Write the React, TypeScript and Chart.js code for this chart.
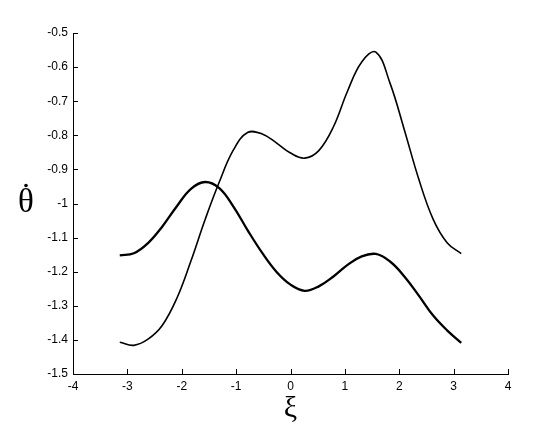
import React, { useEffect, useRef } from "react";
import { Chart, registerables } from "chart.js";

Chart.register(...registerables);

const xTicks = [-4, -3, -2, -1, 0, 1, 2, 3, 4];
const yTicks = [-0.5, -0.6, -0.7, -0.8, -0.9, -1.0, -1.1, -1.2, -1.3, -1.4, -1.5];

const xi = [-3.14, -2.88, -2.62, -2.36, -2.09, -1.83, -1.57, -1.31, -1.05, -0.79, -0.52, -0.26, 0, 0.26, 0.52, 0.79, 1.05, 1.31, 1.57, 1.83, 2.09, 2.36, 2.62, 2.88, 3.14];
const upperBranch = [-1.407, -1.416, -1.398, -1.358, -1.278, -1.168, -1.047, -0.937, -0.843, -0.792, -0.796, -0.822, -0.852, -0.867, -0.845, -0.775, -0.67, -0.585, -0.556, -0.647, -0.782, -0.929, -1.045, -1.115, -1.147];
const lowerBranch = [-1.152, -1.146, -1.116, -1.068, -1.008, -0.957, -0.937, -0.955, -1.009, -1.078, -1.145, -1.2, -1.238, -1.256, -1.243, -1.214, -1.18, -1.155, -1.148, -1.17, -1.213, -1.27, -1.328, -1.372, -1.409];

const xLabel = "ξ";
const yLabel = "θ";

const W = 560;
const H = 437;

const axisPlugin = {
  id: "axisDecor",
  afterDraw(chart: any) {
    const ctx = chart.ctx;
    const xs = chart.scales.x;
    const ys = chart.scales.y;
    const area = chart.chartArea;
    ctx.save();
    ctx.strokeStyle = "#000";
    ctx.lineWidth = 1;
    ctx.beginPath();
    xTicks.forEach((v) => {
      const px = Math.round(xs.getPixelForValue(v)) + 0.5;
      ctx.moveTo(px, area.bottom);
      ctx.lineTo(px, area.bottom - 5);
    });
    yTicks.forEach((v) => {
      const py = Math.round(ys.getPixelForValue(v)) + 0.5;
      ctx.moveTo(area.left, py);
      ctx.lineTo(area.left + 5, py);
    });
    ctx.stroke();
    ctx.fillStyle = "#000";
    ctx.textAlign = "center";
    ctx.textBaseline = "alphabetic";
    ctx.font = "30px 'Liberation Serif', serif";
    ctx.fillText(xLabel, (area.left + area.right) / 2, 417);
    ctx.font = "33px 'Liberation Serif', serif";
    ctx.fillText(yLabel, 26, 212);
    ctx.beginPath();
    ctx.arc(26, 185.5, 1.8, 0, Math.PI * 2);
    ctx.fill();
    ctx.restore();
  },
};

function toPoints(xs: number[], ys: number[]) {
  return xs.map((x, i) => ({ x, y: ys[i] }));
}

export default function App() {
  const ref = useRef<HTMLCanvasElement | null>(null);
  useEffect(() => {
    if (!ref.current) return;
    const tickFont = { family: "'Liberation Sans', Arial, sans-serif", size: 12 };
    const chart = new Chart(ref.current, {
      type: "line",
      data: {
        datasets: [
          {
            data: toPoints(xi, upperBranch),
            borderColor: "#000",
            borderWidth: 1.6,
            pointRadius: 0,
            tension: 0.4,
            fill: false,
          },
          {
            data: toPoints(xi, lowerBranch),
            borderColor: "#000",
            borderWidth: 2.3,
            pointRadius: 0,
            tension: 0.4,
            fill: false,
          },
        ],
      },
      options: {
        animation: false,
        responsive: false,
        maintainAspectRatio: false,
        events: [],
        layout: { padding: { left: 0, top: 33, right: 52, bottom: 0 } },
        plugins: { legend: { display: false }, tooltip: { enabled: false }, title: { display: false } },
        scales: {
          x: {
            type: "linear",
            min: -4,
            max: 4,
            afterBuildTicks: (s: any) => {
              s.ticks = xTicks.map((v) => ({ value: v }));
            },
            afterFit: (s: any) => {
              s.height = H - 374;
            },
            grid: { display: false, drawTicks: false },
            border: { display: true, color: "#000", width: 1 },
            ticks: {
              font: tickFont,
              color: "#000",
              padding: 5,
              maxRotation: 0,
              autoSkip: false,
              callback: (v: any) => String(v),
            },
          },
          y: {
            type: "linear",
            min: -1.5,
            max: -0.5,
            afterBuildTicks: (s: any) => {
              s.ticks = yTicks.map((v) => ({ value: v }));
            },
            afterFit: (s: any) => {
              s.width = 73;
            },
            grid: { display: false, drawTicks: false },
            border: { display: true, color: "#000", width: 1 },
            ticks: {
              font: tickFont,
              color: "#000",
              padding: 5,
              autoSkip: false,
              callback: (v: any) => String(Number(Number(v).toFixed(1))),
            },
          },
        },
      },
      plugins: [axisPlugin],
    });
    return () => chart.destroy();
  }, []);
  return (
    <div style={{ position: "fixed", left: 0, top: 0, width: W, height: H, background: "#fff" }}>
      <canvas ref={ref} width={W} height={H} style={{ width: W, height: H, display: "block" }} />
    </div>
  );
}
